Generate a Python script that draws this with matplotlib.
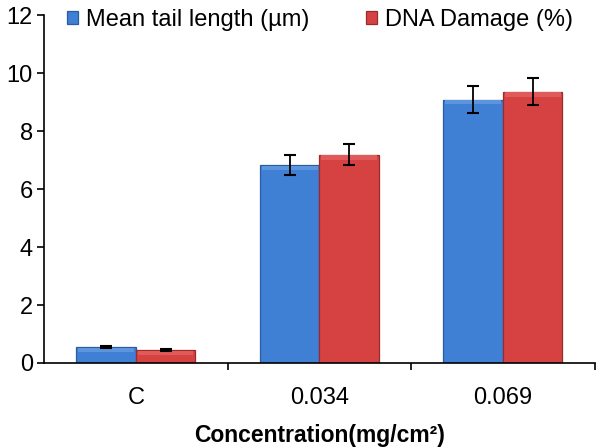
import matplotlib.pyplot as plt
import numpy as np

plt.rcParams['font.family'] = ['Liberation Sans', 'DejaVu Sans']

categories = ['C', '0.034', '0.069']
tail_length = [0.55, 6.83, 9.09]
tail_err = [0.03, 0.34, 0.46]
dna_damage = [0.45, 7.19, 9.36]
dna_err = [0.03, 0.36, 0.46]

fig = plt.figure(figsize=(6, 4.47), dpi=100)
ax = fig.add_axes([0.0733, 0.188, 0.918, 0.778])

x = np.arange(len(categories))
w = 0.324
band = 0.15  # light bevel strip on top of each bar

ax.bar(x - w / 2, tail_length, w, color='#3F7FD4', edgecolor='#2B5C9F',
       linewidth=0.9, label='Mean tail length (µm)', zorder=2)
ax.bar(x + w / 2, dna_damage, w, color='#D64242', edgecolor='#9A2B2B',
       linewidth=0.9, label='DNA Damage (%)', zorder=2)
# bevel highlight
ax.bar(x - w / 2, [band] * 3, w * 0.94, bottom=np.array(tail_length) - band - 0.02,
       color='#5C95DE', linewidth=0, zorder=2.5)
ax.bar(x + w / 2, [band] * 3, w * 0.94, bottom=np.array(dna_damage) - band - 0.02,
       color='#E05A5A', linewidth=0, zorder=2.5)

ax.errorbar(x - w / 2, tail_length, yerr=tail_err, fmt='none', ecolor='black',
            elinewidth=1.3, capsize=4.5, capthick=1.5, zorder=3)
ax.errorbar(x + w / 2, dna_damage, yerr=dna_err, fmt='none', ecolor='black',
            elinewidth=1.3, capsize=4.5, capthick=1.5, zorder=3)

ax.set_xlim(-0.5, 2.5)
ax.set_ylim(0, 12)
ax.set_yticks(range(0, 13, 2))
ax.set_xticks(x)
ax.set_xticklabels(categories)
ax.set_xticks([0.5, 1.5, 2.5], minor=True)
ax.tick_params(axis='x', which='major', length=0, pad=17, labelsize=17)
ax.tick_params(axis='x', which='minor', length=5, width=1.2, direction='out')
ax.tick_params(axis='y', length=5, width=1.2, direction='out', labelsize=17, pad=3)

for s in ['top', 'right']:
    ax.spines[s].set_visible(False)
for s in ['left', 'bottom']:
    ax.spines[s].set_linewidth(1.2)

ax.set_xlabel('Concentration(mg/cm²)', fontsize=16.5, fontweight='bold', labelpad=11)

ax.legend(loc='upper left', bbox_to_anchor=(0.025, 1.045), ncol=2, frameon=False,
          fontsize=17, handlelength=0.45, handleheight=0.45, handletextpad=0.35,
          columnspacing=2.4, borderaxespad=0)

fig.savefig('out.png', dpi=100)
